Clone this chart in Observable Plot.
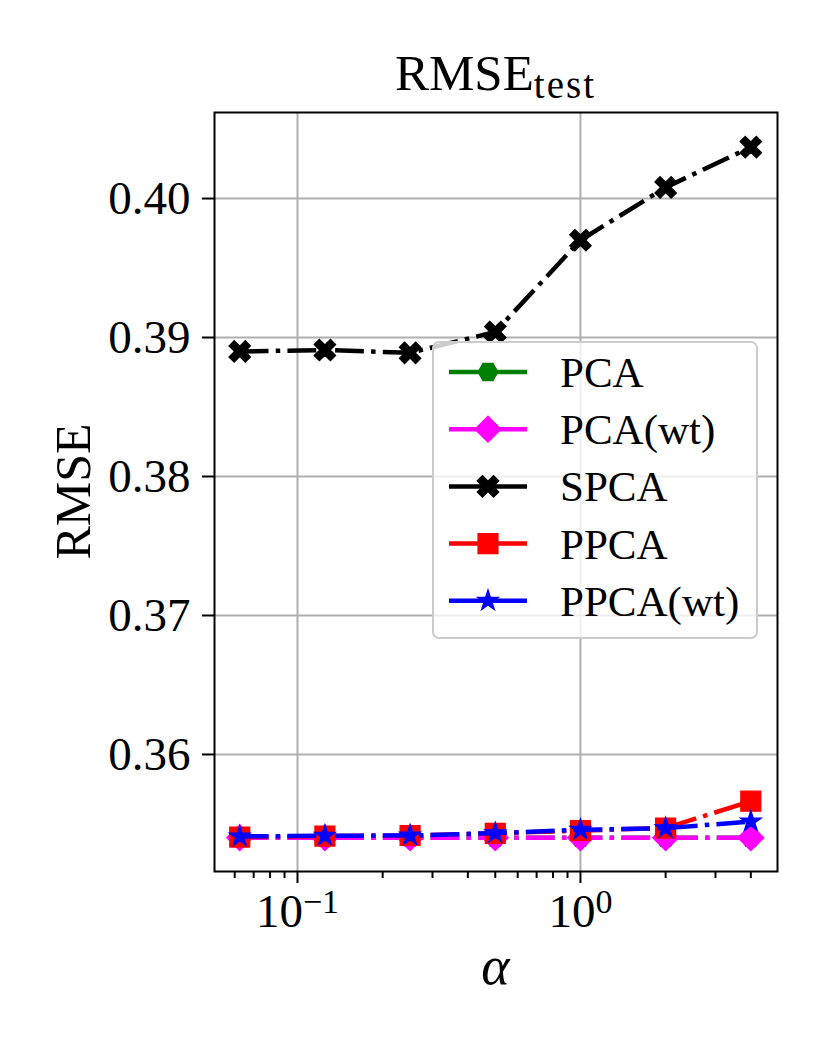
<!DOCTYPE html>
<html>
<head>
<meta charset="utf-8">
<script src="https://cdn.jsdelivr.net/npm/d3@7"></script>
<script src="https://cdn.jsdelivr.net/npm/@observablehq/plot@0.6"></script>
<style>
  html, body { margin: 0; padding: 0; background: white; }
  #chart { width: 829px; height: 1047px; }
</style>
</head>
<body>
<div id="chart"></div>
<script>
// ---- data ----
const alpha = [0.0625, 0.125, 0.25, 0.5, 1, 2, 4];
const seriesNames = ["PCA", "PCA(wt)", "SPCA", "PPCA", "PPCA(wt)"];
const pcaVals    = [0.35401, 0.35401, 0.35401, 0.35401, 0.35401, 0.35401, 0.35401];
const pcaWtVals  = [0.35401, 0.35401, 0.35401, 0.35401, 0.35401, 0.35401, 0.35401];
const spcaVals   = [0.3890, 0.3891, 0.3889, 0.3904, 0.3970, 0.4008, 0.4037];
const ppcaVals   = [0.35406, 0.35413, 0.35417, 0.35432, 0.35453, 0.35470, 0.35664];
const ppcaWtVals = [0.35410, 0.35415, 0.35417, 0.35434, 0.35458, 0.35470, 0.35518];
const yTicks = [0.36, 0.37, 0.38, 0.39, 0.40];
const xMajorTicks = [0.1, 1];
const xMinorTicks = [0.06, 0.07, 0.08, 0.09, 0.2, 0.3, 0.4, 0.5, 0.6, 0.7, 0.8, 0.9, 2, 3, 4];
const xTickLabels = {"0.1": "10|−1", "1": "10|0"};

const allVals = [pcaVals, pcaWtVals, spcaVals, ppcaVals, ppcaWtVals];
const colors = ["green", "magenta", "black", "red", "blue"];

// ---- custom marker symbols ----
const R = s => Math.sqrt(s / Math.PI);
const hexagon = { draw(ctx, size) { const r = R(size);
  for (let k = 0; k < 6; k++) { const a = k * Math.PI / 3; const px = r * Math.cos(a), py = r * Math.sin(a); k ? ctx.lineTo(px, py) : ctx.moveTo(px, py); }
  ctx.closePath(); } };
const diamond = { draw(ctx, size) { const r = R(size);
  ctx.moveTo(0, -r); ctx.lineTo(r, 0); ctx.lineTo(0, r); ctx.lineTo(-r, 0); ctx.closePath(); } };
const square = { draw(ctx, size) { const r = R(size);
  ctx.moveTo(-r, -r); ctx.lineTo(r, -r); ctx.lineTo(r, r); ctx.lineTo(-r, r); ctx.closePath(); } };
const xfilled = { draw(ctx, size) { const r = R(size); const w = 0.32 * r;
  const pts = [[w, -r], [w, -w], [r, -w], [r, w], [w, w], [w, r], [-w, r], [-w, w], [-r, w], [-r, -w], [-w, -w], [-w, -r]];
  const c = Math.SQRT1_2;
  pts.forEach(([px, py], k) => { const qx = c * (px - py), qy = c * (px + py); k ? ctx.lineTo(qx, qy) : ctx.moveTo(qx, qy); });
  ctx.closePath(); } };
const star = { draw(ctx, size) { const r = R(size); const ri = r * 0.382;
  for (let k = 0; k < 10; k++) { const rr = k % 2 ? ri : r; const a = -Math.PI / 2 + k * Math.PI / 5;
    const px = rr * Math.cos(a), py = rr * Math.sin(a); k ? ctx.lineTo(px, py) : ctx.moveTo(px, py); }
  ctx.closePath(); } };
const symbols = [hexagon, diamond, xfilled, square, star];
const radii = [10, 13, 11.5, 10, 11];
const DASH = "28.8,7.2,4.5,7.2";

const rows = [];
seriesNames.forEach((s, i) => alpha.forEach((a, j) => rows.push({series: s, alpha: a, value: allVals[i][j]})));

const seriesMarks = [];
seriesNames.forEach((s, i) => {
  const d = rows.filter(r => r.series === s);
  seriesMarks.push(Plot.line(d, {x: "alpha", y: "value", stroke: colors[i], strokeWidth: 4.5,
    strokeDasharray: DASH, strokeLinecap: "butt", strokeLinejoin: "round"}));
  seriesMarks.push(Plot.dot(d, {x: "alpha", y: "value", symbol: symbols[i], r: radii[i],
    fill: colors[i], stroke: colors[i], strokeWidth: 1.2}));
});

const FONT = "'Liberation Serif', 'DejaVu Serif', serif";

const chart = Plot.plot({
  width: 829, height: 1047,
  marginLeft: 214, marginRight: 52, marginTop: 112, marginBottom: 176,
  x: {type: "log", domain: [0.0509, 4.97]},
  y: {domain: [0.35158, 0.40619]},
  style: {fontFamily: FONT, fontSize: "46px", background: "white", color: "black"},
  marks: [
    Plot.gridX(xMajorTicks, {stroke: "#b0b0b0", strokeOpacity: 1, strokeWidth: 2}),
    Plot.gridY(yTicks, {stroke: "#b0b0b0", strokeOpacity: 1, strokeWidth: 2}),
    Plot.axisX(xMinorTicks, {tickSize: 7, strokeWidth: 2, tickFormat: () => "", label: null}),
    Plot.axisX(xMajorTicks, {tickSize: 12, tickPadding: 10, strokeWidth: 2, fontSize: 47,
      tickFormat: d => xTickLabels[String(d)], label: null}),
    Plot.axisY(yTicks, {tickSize: 12, tickPadding: 12, strokeWidth: 2, fontSize: 47,
      tickFormat: d3.format(".2f"), label: null}),
    ...seriesMarks,
    Plot.frame({stroke: "black", strokeWidth: 2})
  ]
});
document.getElementById("chart").appendChild(chart);

const svg = d3.select(chart);

// superscripts in x tick labels
svg.selectAll("text").each(function() {
  const t = d3.select(this);
  const s = t.text();
  if (s.includes("|")) {
    const [base, exp] = s.split("|");
    t.text("");
    t.append("tspan").text(base);
    t.append("tspan").attr("dy", "-14px").attr("font-size", "34px").text(exp);
  }
});

// title
const title = svg.append("text").attr("x", 495.5).attr("y", 90).attr("text-anchor", "middle")
  .attr("font-family", FONT).attr("font-size", 51).attr("fill", "black");
title.append("tspan").text("RMSE");
title.append("tspan").attr("dy", 8).attr("font-size", 39).attr("letter-spacing", "2px").text("test");

// y label
svg.append("text").attr("transform", "translate(72,491.5) rotate(-90)").attr("text-anchor", "middle")
  .attr("dy", "0.35em").attr("font-family", FONT).attr("font-size", 50).attr("fill", "black").text("RMSE");

// x label
svg.append("text").attr("x", 495.5).attr("y", 984).attr("text-anchor", "middle")
  .attr("font-family", FONT).attr("font-style", "italic").attr("font-size", 54).attr("fill", "black").text("α");

// legend
const lg = svg.append("g");
lg.append("rect").attr("x", 433).attr("y", 342).attr("width", 324).attr("height", 296).attr("rx", 6)
  .attr("fill", "white").attr("fill-opacity", 0.8).attr("stroke", "#cccccc").attr("stroke-width", 2);
seriesNames.forEach((s, i) => {
  const y = 372 + i * 57.2;
  lg.append("line").attr("x1", 449).attr("x2", 527).attr("y1", y).attr("y2", y)
    .attr("stroke", colors[i]).attr("stroke-width", 4.5);
  lg.append("path").attr("transform", `translate(488,${y})`)
    .attr("d", d3.symbol(symbols[i], radii[i] * radii[i] * Math.PI)())
    .attr("fill", colors[i]).attr("stroke", colors[i]).attr("stroke-width", 1.2);
  lg.append("text").attr("x", 560).attr("y", y).attr("dy", "0.35em").attr("text-anchor", "start")
    .attr("font-family", FONT).attr("font-size", 43).attr("fill", "black").text(s);
});
</script>
</body>
</html>
